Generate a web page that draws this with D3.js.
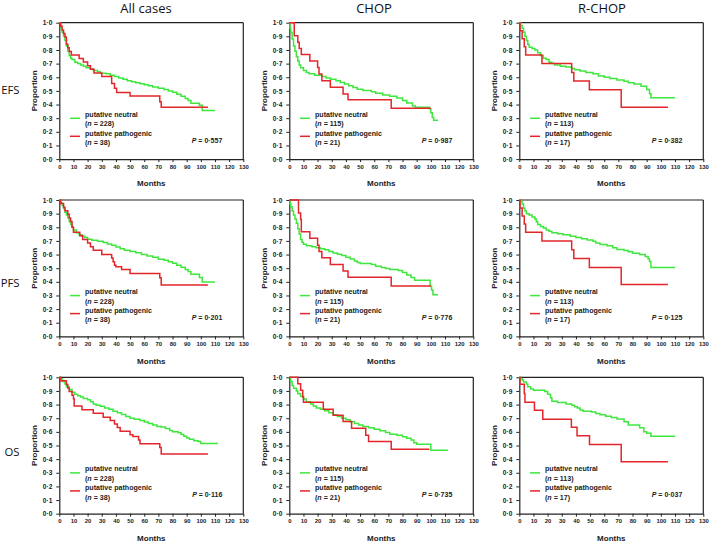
<!DOCTYPE html>
<html>
<head>
<meta charset="utf-8">
<script src="https://cdn.jsdelivr.net/npm/d3@7"></script>
<style>
  body { margin: 0; background: #fff; }
  svg { display: block; }
</style>
</head>
<body>
<svg id="chart" width="709" height="542"></svg>
<script>
// ---------- DATA ----------
const columns = ["All cases", "CHOP", "R-CHOP"];
const rows = ["EFS", "PFS", "OS"];
const seriesNames = ["putative neutral", "putative pathogenic"];
const nNeutral = [228, 115, 113];
const nPathogenic = [38, 21, 17];
const pValues = [
  ["0·557", "0·987", "0·382"],
  ["0·201", "0·776", "0·125"],
  ["0·116", "0·735", "0·037"]
];
const xTicks = [0, 10, 20, 30, 40, 50, 60, 70, 80, 90, 100, 110, 120, 130];
const yTicks = [0, 0.1, 0.2, 0.3, 0.4, 0.5, 0.6, 0.7, 0.8, 0.9, 1.0];

// Kaplan-Meier step points [months, proportion]
const efsAllNeutral = [[0,1],[1,0.96],[2,0.93],[3,0.9],[4,0.87],[5,0.83],[6,0.79],[7,0.76],[8,0.74],[9,0.73],[11,0.71],[13,0.7],[15,0.69],[17,0.68],[19,0.67],[22,0.66],[24,0.65],[27,0.64],[29,0.63],[33,0.625],[36,0.615],[39,0.605],[42,0.595],[45,0.585],[48,0.575],[51,0.567],[54,0.56],[57,0.552],[60,0.545],[63,0.537],[66,0.528],[70,0.52],[74,0.51],[77,0.5],[80,0.49],[83,0.475],[86,0.46],[89,0.445],[91,0.43],[93,0.41],[99,0.395],[101,0.357],[110,0.357]];
const efsAllPath = [[0,1],[1,0.974],[2,0.947],[3,0.921],[4,0.895],[5,0.842],[6,0.816],[7,0.789],[8.5,0.763],[14,0.737],[17,0.711],[20,0.684],[22,0.658],[24.5,0.632],[30,0.605],[37,0.555],[39,0.52],[40.5,0.489],[50,0.463],[71,0.42],[72,0.381],[105,0.381]];
const efsChopNeutral = [[0,1],[0.5,0.96],[1,0.93],[2,0.88],[3,0.83],[4,0.79],[5,0.75],[6,0.72],[7,0.69],[8,0.67],[10,0.65],[12,0.635],[14,0.625],[18,0.615],[23,0.605],[26,0.595],[29,0.585],[33,0.575],[36,0.562],[39,0.55],[42,0.538],[45,0.525],[48,0.512],[52,0.503],[58,0.493],[61,0.482],[66,0.47],[71,0.46],[76,0.448],[80,0.43],[83,0.412],[87,0.39],[89,0.38],[99,0.37],[100,0.34],[101,0.305],[102,0.285],[105,0.285]];
const efsChopPath = [[0,1],[3.5,0.905],[6,0.857],[7,0.81],[8.5,0.767],[14.5,0.72],[20,0.672],[21,0.623],[23,0.575],[29,0.526],[38,0.478],[41.5,0.435],[72,0.372],[100,0.372]];
const efsRchopNeutral = [[0,1],[1,0.98],[2,0.96],[3,0.93],[4,0.9],[5,0.87],[6,0.84],[7,0.82],[9,0.81],[11,0.8],[13,0.78],[15,0.76],[17,0.74],[19,0.73],[21,0.71],[23,0.7],[25,0.69],[29,0.68],[33,0.675],[37,0.665],[39,0.655],[43,0.645],[47,0.635],[52,0.625],[56,0.61],[60,0.6],[64,0.59],[69,0.58],[74,0.57],[77,0.56],[81,0.55],[86,0.535],[90,0.51],[92,0.48],[93,0.45],[110,0.45]];
const efsRchopPath = [[0,1],[0.5,0.941],[2,0.882],[3.5,0.824],[4.5,0.763],[16,0.7],[37,0.635],[38.5,0.572],[49.5,0.508],[72,0.381],[105,0.381]];

const pfsAllNeutral = [[0,1],[1,0.98],[2,0.96],[3,0.935],[4,0.91],[5,0.89],[6,0.87],[7,0.84],[8,0.82],[9,0.8],[10,0.78],[12,0.76],[14,0.745],[16,0.735],[18,0.725],[20,0.712],[23,0.705],[27,0.698],[31,0.688],[34,0.678],[37,0.668],[40,0.655],[43,0.642],[46,0.632],[50,0.622],[54,0.613],[58,0.6],[62,0.59],[66,0.58],[70,0.566],[74,0.558],[77,0.548],[80,0.537],[83,0.522],[86,0.507],[89,0.49],[91,0.475],[93,0.455],[99,0.432],[101,0.398],[110,0.398]];
const pfsAllPath = [[0,1],[1,0.974],[3,0.947],[4,0.921],[6,0.895],[7,0.868],[8,0.842],[9,0.8],[10,0.763],[14.5,0.737],[16.5,0.711],[20,0.684],[22,0.658],[24,0.632],[30,0.6],[37,0.574],[38,0.548],[39,0.522],[40,0.51],[44,0.49],[50,0.461],[71,0.43],[72,0.377],[105,0.377]];
const pfsChopNeutral = [[0,1],[0.5,0.97],[1,0.95],[2,0.92],[3,0.89],[4,0.86],[5,0.83],[6,0.79],[7,0.75],[8,0.71],[9,0.69],[10,0.675],[12,0.665],[16,0.658],[19,0.65],[22,0.642],[25,0.635],[28,0.622],[31,0.612],[34,0.603],[37,0.593],[40,0.58],[43,0.567],[46,0.553],[48,0.542],[50,0.534],[58,0.527],[61,0.515],[65,0.505],[68,0.497],[71,0.49],[77,0.483],[80,0.468],[83,0.45],[86,0.432],[88.5,0.412],[99.5,0.37],[100.5,0.34],[101.5,0.305],[105,0.305]];
const pfsChopPath = [[0,1],[6.5,0.905],[8,0.857],[8.5,0.767],[14.5,0.72],[20,0.669],[21,0.623],[23,0.576],[29,0.527],[38,0.48],[41.5,0.434],[72,0.37],[100,0.37]];
const pfsRchopNeutral = [[0,1],[1,0.99],[2,0.97],[3,0.94],[4,0.92],[5,0.9],[7,0.89],[9,0.875],[11,0.86],[12,0.84],[13,0.82],[15,0.805],[17,0.795],[19,0.78],[21,0.77],[23,0.76],[27,0.752],[31,0.745],[36,0.735],[40,0.725],[44,0.715],[48,0.707],[52,0.697],[54,0.685],[57,0.673],[62,0.665],[66,0.65],[69,0.638],[74,0.63],[77,0.62],[80,0.61],[85,0.6],[89,0.585],[91,0.57],[92,0.55],[93,0.505],[110,0.505]];
const pfsRchopPath = [[0,1],[0.5,0.941],[2,0.882],[3.5,0.824],[4.5,0.763],[16,0.7],[37,0.635],[38.5,0.571],[49.5,0.505],[72,0.38],[105,0.38]];

const osAllNeutral = [[0,1],[1,0.99],[2,0.97],[4,0.95],[5,0.93],[7,0.91],[9,0.89],[11,0.875],[13,0.865],[15,0.855],[17,0.845],[20,0.835],[22,0.82],[24,0.805],[26,0.795],[29,0.787],[32,0.775],[35,0.765],[38,0.752],[41,0.74],[44,0.727],[47,0.712],[50,0.7],[53,0.692],[57,0.683],[60,0.673],[63,0.662],[66,0.65],[69,0.64],[72,0.635],[75,0.624],[78,0.61],[80,0.6],[84,0.593],[86,0.58],[88,0.568],[90,0.555],[92,0.545],[95,0.535],[98,0.53],[100,0.515],[112,0.515]];
const osAllPath = [[0,1],[1,0.974],[5,0.947],[6,0.921],[7,0.895],[9,0.868],[10,0.842],[10.5,0.79],[16,0.763],[24,0.737],[31,0.707],[36,0.684],[39,0.658],[41,0.632],[43,0.605],[50,0.579],[52,0.566],[56,0.54],[57,0.512],[71,0.485],[72,0.437],[105,0.437]];
const osChopNeutral = [[0,1],[1,0.97],[2,0.94],[3,0.92],[5,0.9],[6,0.88],[8,0.86],[10,0.84],[12,0.82],[15,0.805],[17,0.79],[19,0.775],[22,0.765],[25,0.755],[28,0.74],[31,0.725],[34,0.712],[37,0.7],[40,0.688],[43,0.675],[46,0.662],[49,0.65],[52,0.64],[56,0.63],[60,0.62],[64,0.608],[68,0.595],[71,0.582],[76,0.575],[80,0.565],[83,0.553],[86,0.54],[88,0.52],[90,0.51],[100,0.466],[112,0.466]];
const osChopPath = [[0,1],[6,0.952],[8,0.905],[9.5,0.857],[10,0.817],[24,0.766],[31,0.722],[38,0.676],[44,0.627],[54,0.575],[56,0.529],[72,0.473],[99,0.473]];
const osRchopNeutral = [[0,1],[1,0.99],[2,0.98],[3,0.965],[5,0.95],[6,0.93],[8,0.915],[10,0.905],[18,0.895],[20,0.875],[22,0.85],[23,0.825],[27,0.815],[33,0.805],[37,0.795],[39,0.785],[41,0.775],[43,0.76],[45,0.752],[51,0.745],[54,0.735],[57,0.725],[61,0.715],[65,0.705],[69,0.695],[74,0.675],[77,0.65],[85,0.63],[88,0.6],[90,0.59],[93,0.568],[110,0.568]];
const osRchopPath = [[0,1],[0.5,0.949],[3.5,0.882],[4,0.817],[10.7,0.759],[16.6,0.693],[36.8,0.634],[40.8,0.571],[49.6,0.507],[72,0.38],[105,0.38]];

const neutralData = [
  [efsAllNeutral, efsChopNeutral, efsRchopNeutral],
  [pfsAllNeutral, pfsChopNeutral, pfsRchopNeutral],
  [osAllNeutral, osChopNeutral, osRchopNeutral]
];
const pathData = [
  [efsAllPath, efsChopPath, efsRchopPath],
  [pfsAllPath, pfsChopPath, pfsRchopPath],
  [osAllPath, osChopPath, osRchopPath]
];

// ---------- LAYOUT ----------
const colX = [59.3, 289.3, 519.3];
const rowY = [22.7, 200, 377.3];
const W = 184, H = 136.4;
const GREEN = "#3ee63e", RED = "#e3262b";
const smallFont = "'Liberation Sans', Arial, sans-serif";
const titleFont = "'Open Sans', 'Noto Sans', sans-serif";

const svg = d3.select("#chart");

const x = d3.scaleLinear().domain([0, 130]).range([0, W]);
const y = d3.scaleLinear().domain([0, 1]).range([H, 0]);
const line = d3.line().x(d => x(d[0])).y(d => y(d[1])).curve(d3.curveStepAfter);

// column titles
const titleX = [146, 374, 602];
columns.forEach((c, i) => {
  svg.append("text").attr("x", titleX[i]).attr("y", 13)
    .attr("text-anchor", "middle").attr("font-family", titleFont)
    .attr("font-size", 13).attr("fill", "#111").text(c);
});
// row labels
const rowLabelY = [90, 283, 452];
rows.forEach((r, i) => {
  svg.append("text").attr("x", 19.5).attr("y", rowLabelY[i]).attr("dy", "0.35em")
    .attr("text-anchor", "end").attr("font-family", titleFont)
    .attr("font-size", 11.3).attr("fill", "#111").text(r);
});

rows.forEach((r, ri) => {
  columns.forEach((c, ci) => {
    const g = svg.append("g").attr("transform", `translate(${colX[ci]},${rowY[ri]})`);

    // frame top + right
    g.append("line").attr("x1", 0).attr("x2", W).attr("y1", 0).attr("y2", 0)
      .attr("stroke", "#222").attr("stroke-width", 1.2);
    g.append("line").attr("x1", W).attr("x2", W).attr("y1", 0).attr("y2", H)
      .attr("stroke", "#222").attr("stroke-width", 1.2);

    // axes
    const xa = g.append("g").attr("transform", `translate(0,${H})`)
      .call(d3.axisBottom(x).tickValues(xTicks).tickSize(3).tickPadding(2.5).tickSizeOuter(0));
    const ya = g.append("g")
      .call(d3.axisLeft(y).tickValues(yTicks).tickSize(3).tickPadding(4)
        .tickSizeOuter(0).tickFormat(d => d3.format(".1f")(d).replace(".", "·")));
    [xa, ya].forEach(a => {
      a.select(".domain").attr("stroke", "#222").attr("stroke-width", 1.2);
      a.selectAll(".tick line").attr("stroke", "#222").attr("stroke-width", 1);
      a.selectAll(".tick text").attr("fill", "#222")
        .attr("font-family", smallFont).attr("font-weight", "bold");
    });
    xa.selectAll(".tick text").attr("font-size", 5.9);
    ya.selectAll(".tick text").attr("font-size", 6.6);

    // axis titles
    g.append("text").attr("x", W / 2).attr("y", H + 24.5).attr("dy", "0.35em")
      .attr("text-anchor", "middle").attr("font-family", smallFont)
      .attr("font-weight", "bold").attr("font-size", 8).attr("fill", "#222").text("Months");
    g.append("text").attr("transform", `translate(-25,${H / 2}) rotate(-90)`)
      .attr("dy", "0.35em").attr("text-anchor", "middle").attr("font-family", smallFont)
      .attr("font-weight", "bold").attr("font-size", 8).attr("fill", "#222").text("Proportion");

    // curves
    g.append("path").datum(neutralData[ri][ci]).attr("d", line)
      .attr("fill", "none").attr("stroke", GREEN).attr("stroke-width", 1.5);
    g.append("path").datum(pathData[ri][ci]).attr("d", line)
      .attr("fill", "none").attr("stroke", RED).attr("stroke-width", 1.5);

    // legend
    const lg = g.append("g").attr("font-family", smallFont).attr("font-weight", "bold")
      .attr("font-size", 7.1).attr("fill", "#222");
    lg.append("line").attr("x1", 10.7).attr("x2", 20.7).attr("y1", 95.6).attr("y2", 95.6)
      .attr("stroke", GREEN).attr("stroke-width", 1.5);
    lg.append("line").attr("x1", 10.7).attr("x2", 20.7).attr("y1", 113.6).attr("y2", 113.6)
      .attr("stroke", RED).attr("stroke-width", 1.5);
    lg.append("text").attr("x", 25.7).attr("y", 91.6).attr("dy", "0.35em").text(seriesNames[0]);
    const t2 = lg.append("text").attr("x", 25.7).attr("y", 101.3).attr("dy", "0.35em");
    t2.append("tspan").text("(");
    t2.append("tspan").attr("font-style", "italic").text("n");
    t2.append("tspan").text(" = " + nNeutral[ci] + ")");
    lg.append("text").attr("x", 25.7).attr("y", 110.6).attr("dy", "0.35em").text(seriesNames[1]);
    const t4 = lg.append("text").attr("x", 25.7).attr("y", 120).attr("dy", "0.35em");
    t4.append("tspan").text("(");
    t4.append("tspan").attr("font-style", "italic").text("n");
    t4.append("tspan").text(" = " + nPathogenic[ci] + ")");

    // p value
    const pt = g.append("text").attr("x", 163).attr("y", 117.5).attr("dy", "0.35em")
      .attr("text-anchor", "end").attr("font-family", smallFont).attr("font-weight", "bold")
      .attr("font-size", 7).attr("fill", "#222");
    pt.append("tspan").attr("font-style", "italic").text("P");
    pt.append("tspan").text(" = " + pValues[ri][ci]);
  });
});
</script>
</body>
</html>
